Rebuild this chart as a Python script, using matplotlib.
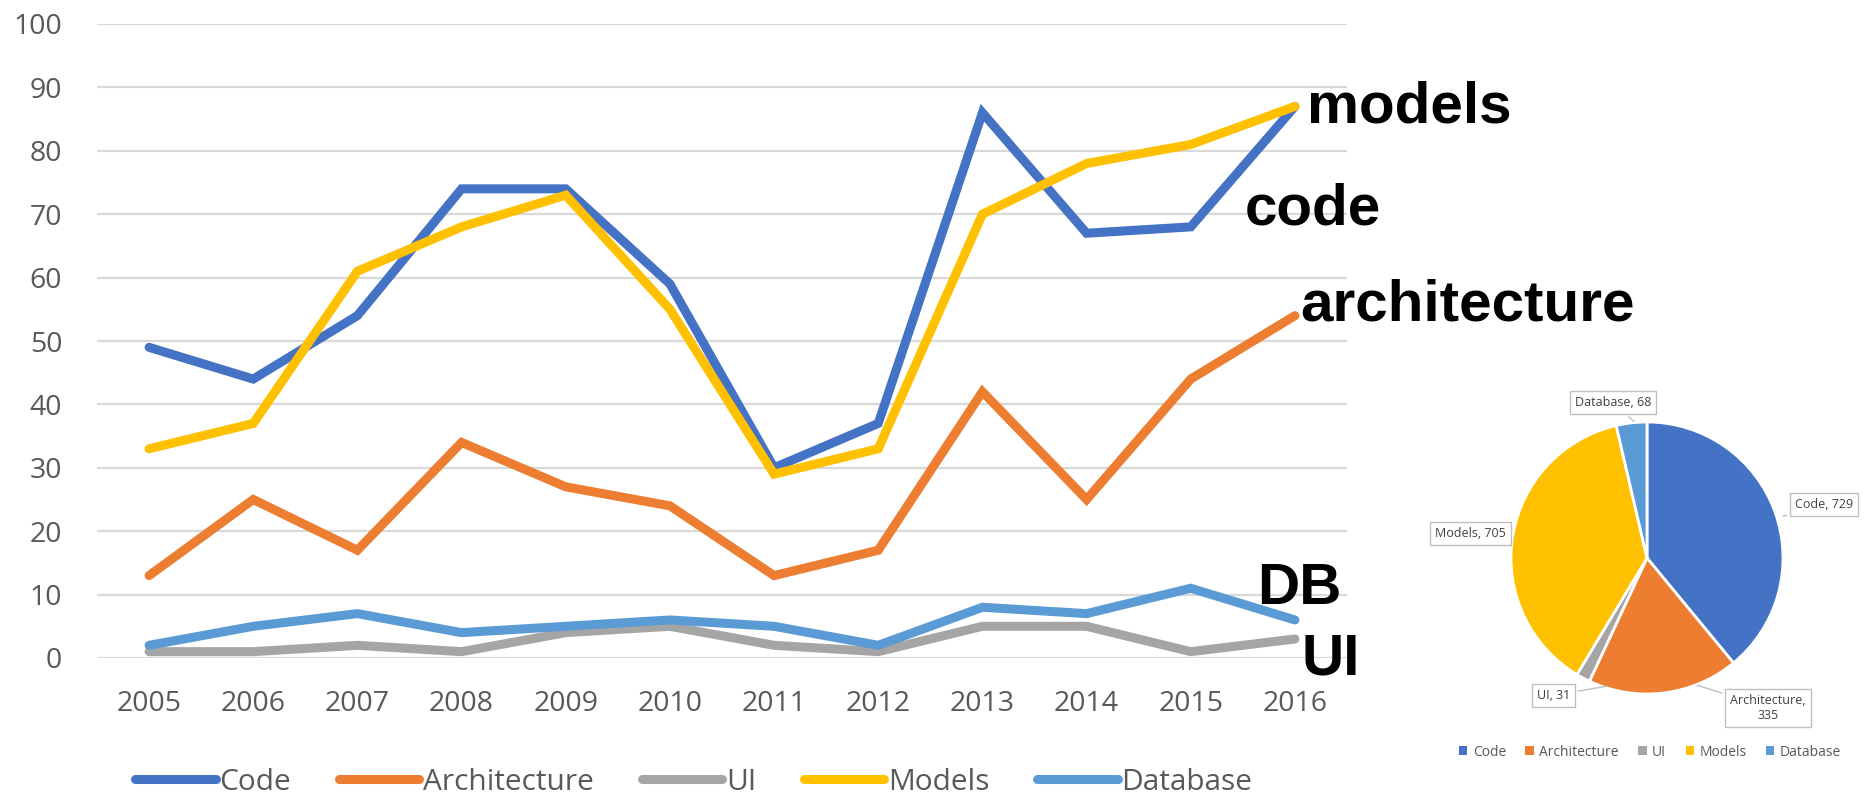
import matplotlib
matplotlib.use("Agg")
import matplotlib.pyplot as plt
from matplotlib import font_manager

years = ["2005", "2006", "2007", "2008", "2009", "2010",
         "2011", "2012", "2013", "2014", "2015", "2016"]

code         = [49, 44, 54, 74, 74, 59, 30, 37, 86, 67, 68, 87]
architecture = [13, 25, 17, 34, 27, 24, 13, 17, 42, 25, 44, 54]
ui           = [1, 1, 2, 1, 4, 5, 2, 1, 5, 5, 1, 3]
models       = [33, 37, 61, 68, 73, 55, 29, 33, 70, 78, 81, 87]
database     = [2, 5, 7, 4, 5, 6, 5, 2, 8, 7, 11, 6]

series_names = ["Code", "Architecture", "UI", "Models", "Database"]
pie_totals   = [729, 335, 31, 705, 68]

COLORS = {
    "Code":         "#4472C4",
    "Architecture": "#ED7D31",
    "UI":           "#A5A5A5",
    "Models":       "#FFC000",
    "Database":     "#5B9BD5",
}
GRID = "#D9D9D9"
TXT = "#595959"


def pick_font(candidates):
    have = {f.name for f in font_manager.fontManager.ttflist}
    for c in candidates:
        if c in have:
            return c
    return "DejaVu Sans"


TICK_FONT = pick_font(["Open Sans", "Lato"])
PIE_FONT = pick_font(["Open Sans", "Lato"])
BIG_FONT = pick_font(["Liberation Sans", "Arial"])

W, H = 1870, 797
fig = plt.figure(figsize=(W / 100, H / 100), dpi=100)

# ---- line chart ----
ax = fig.add_axes([97 / W, 1 - 658 / H, (1347 - 97) / W, (658 - 24) / H])
x = list(range(len(years)))
data = {"Code": code, "Architecture": architecture, "UI": ui,
        "Models": models, "Database": database}
handles = []
for name in series_names:
    h, = ax.plot(x, data[name], color=COLORS[name], lw=6.5,
                 solid_joinstyle="miter", solid_capstyle="round",
                 zorder=3, clip_on=False)
    handles.append(h)

ax.set_xlim(-0.5, len(years) - 0.5)
ax.set_ylim(0, 100)
ax.set_yticks(range(0, 101, 10))
ax.set_xticks(x)
ax.set_xticklabels(years)
ax.yaxis.grid(True, color=GRID, lw=1.6)
ax.set_axisbelow(True)
for s in ax.spines.values():
    s.set_visible(False)
ax.tick_params(length=0, labelcolor=TXT, labelsize=20.5)
ax.tick_params(axis="y", pad=25)
ax.tick_params(axis="x", pad=23)
for lab in ax.get_xticklabels() + ax.get_yticklabels():
    lab.set_family(TICK_FONT)

fig.legend(handles, series_names, loc="center left",
           bbox_to_anchor=(135 / W, 1 - 782 / H), ncol=5, frameon=False,
           borderaxespad=0, borderpad=0,
           handlelength=2.7, handletextpad=0.12, columnspacing=1.6,
           prop={"family": TICK_FONT, "size": 21.5}, labelcolor=TXT)

# big bold annotations, offsets from each series' last point
big = dict(fontsize=42, fontweight="bold", family=BIG_FONT, color="black",
           va="center", ha="left", textcoords="offset points",
           annotation_clip=False)
last = len(years) - 1
ax.annotate("models", (last, models[-1]), xytext=(9, -1), **big)
ax.annotate("code", (last, code[-1]), xytext=(-36, -74), **big)
ax.annotate("architecture", (last, architecture[-1]), xytext=(4, 7), **big)
ax.annotate("DB", (last, database[-1]), xytext=(-27, 22), **big)
ax.annotate("UI", (last, ui[-1]), xytext=(5, -14.5), **big)

# ---- pie chart ----
cx, cy, r = 1647, 558, 136
pax = fig.add_axes([(cx - r) / W, 1 - (cy + r) / H, 2 * r / W, 2 * r / H])
wedges, _ = pax.pie(pie_totals, colors=[COLORS[n] for n in series_names],
                    startangle=90, counterclock=False, radius=1,
                    wedgeprops={"edgecolor": "white", "linewidth": 2})
pax.set_xlim(-1, 1)
pax.set_ylim(-1, 1)
pax.set_aspect("equal")

label_pos = [(1.30, 0.39), (0.89, -1.10), (-0.69, -1.01),
             (-1.30, 0.18), (-0.25, 1.14)]
anchor = [(0.98, 0.30), (0.35, -0.93), (-0.28, -0.94),
          (-0.97, 0.16), (-0.08, 0.99)]
for name, val, pos, anc in zip(series_names, pie_totals, label_pos, anchor):
    txt = f"{name},\n{val}" if name == "Architecture" else f"{name}, {val}"
    pax.annotate(txt, anc, xytext=pos, textcoords="data",
                 ha="center", va="center", fontsize=9, color="#404040",
                 family=PIE_FONT, annotation_clip=False,
                 bbox=dict(boxstyle="square,pad=0.4", fc="white",
                           ec="#BFBFBF", lw=1),
                 arrowprops=dict(arrowstyle="-", color="#BFBFBF", lw=1))

leg2 = fig.legend(wedges, series_names, loc="center",
                  bbox_to_anchor=(1650 / W, 1 - 752 / H), ncol=5,
                  frameon=False, handlelength=0.6, handleheight=0.6,
                  handletextpad=0.4, columnspacing=1.4,
                  prop={"family": PIE_FONT, "size": 10}, labelcolor=TXT)
for p in leg2.get_patches():
    p.set_edgecolor("none")

fig.savefig("out.png", dpi=100)
